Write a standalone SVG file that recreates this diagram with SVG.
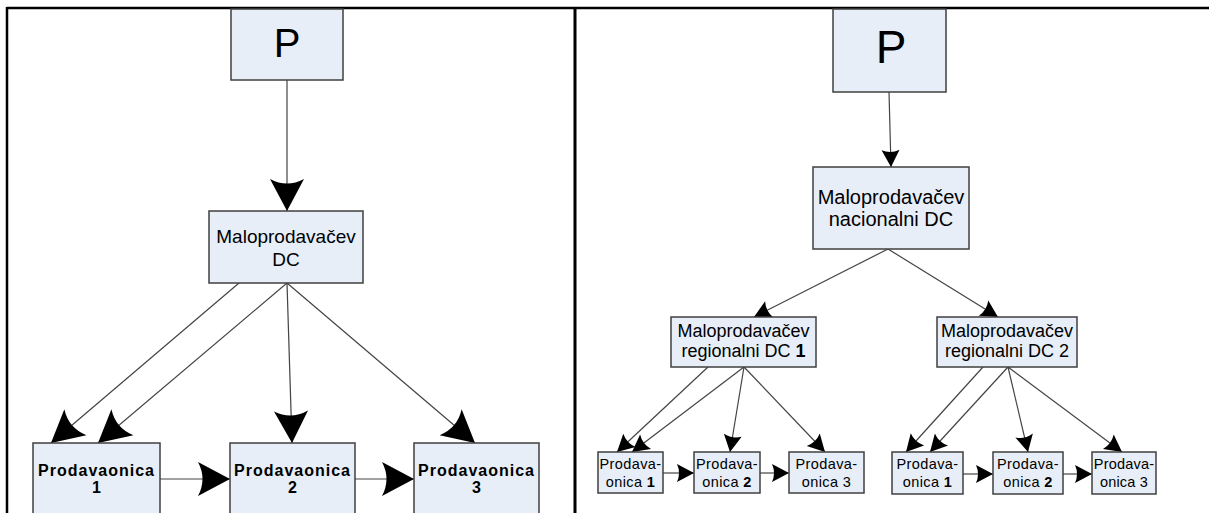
<svg xmlns="http://www.w3.org/2000/svg" width="1209" height="513" viewBox="0 0 1209 513">
<style>
.box{fill:#E7EEF7;stroke:#3F3F3F;stroke-width:1.5}
.t{font-family:"Liberation Sans",Arial,sans-serif;fill:#000;text-anchor:middle}
.c{stroke:#444;stroke-width:1.2;fill:none}
.frame{stroke:#000;fill:none}
</style>
<defs>
<marker id="big" markerUnits="userSpaceOnUse" markerWidth="40" markerHeight="40" refX="0" refY="0" orient="auto" overflow="visible">
<path d="M0,0 L-32,-17 Q-23,0 -32,17 Z" fill="#000"/>
</marker>
<marker id="small" markerUnits="userSpaceOnUse" markerWidth="20" markerHeight="20" refX="0" refY="0" orient="auto" overflow="visible">
<path d="M0,0 L-17,-9 Q-13,0 -17,9 Z" fill="#000"/>
</marker>
</defs>
<rect width="1209" height="513" fill="#fff"/>
<g id="frame">
<line class="frame" x1="7" y1="8" x2="1209" y2="8" stroke-width="2.5"/>
<line class="frame" x1="7" y1="7" x2="7" y2="513" stroke-width="2.5"/>
<line class="frame" x1="575" y1="7" x2="575" y2="513" stroke-width="3"/>
</g>
<g id="connectors">
<line class="c" x1="287" y1="80" x2="287" y2="211" marker-end="url(#big)"/>
<line class="c" x1="239" y1="283" x2="51" y2="443" marker-end="url(#big)"/>
<line class="c" x1="287" y1="283" x2="98" y2="443" marker-end="url(#big)"/>
<line class="c" x1="287" y1="283" x2="292" y2="443" marker-end="url(#big)"/>
<line class="c" x1="287" y1="283" x2="475" y2="443" marker-end="url(#big)"/>
<line class="c" x1="160" y1="479" x2="230" y2="479" marker-end="url(#big)"/>
<line class="c" x1="355" y1="479" x2="414" y2="479" marker-end="url(#big)"/>
<line class="c" x1="889" y1="92" x2="891" y2="167" marker-end="url(#small)"/>
<line class="c" x1="888" y1="249" x2="754" y2="317" marker-end="url(#small)"/>
<line class="c" x1="888" y1="249" x2="998" y2="317" marker-end="url(#small)"/>
<line class="c" x1="708" y1="367" x2="617" y2="452" marker-end="url(#small)"/>
<line class="c" x1="744" y1="367" x2="632" y2="452" marker-end="url(#small)"/>
<line class="c" x1="744" y1="367" x2="730" y2="452" marker-end="url(#small)"/>
<line class="c" x1="744" y1="367" x2="825" y2="452" marker-end="url(#small)"/>
<line class="c" x1="663" y1="473" x2="694" y2="473" marker-end="url(#small)"/>
<line class="c" x1="760" y1="473" x2="789" y2="473" marker-end="url(#small)"/>
<line class="c" x1="983" y1="367" x2="906" y2="452" marker-end="url(#small)"/>
<line class="c" x1="1008" y1="367" x2="930" y2="452" marker-end="url(#small)"/>
<line class="c" x1="1008" y1="367" x2="1028" y2="452" marker-end="url(#small)"/>
<line class="c" x1="1008" y1="367" x2="1122" y2="452" marker-end="url(#small)"/>
<line class="c" x1="963" y1="474" x2="993" y2="474" marker-end="url(#small)"/>
<line class="c" x1="1063" y1="474" x2="1092" y2="474" marker-end="url(#small)"/>
</g>
<g id="p-left">
<rect class="box" x="231" y="9" width="112" height="71"/>
<text class="t" x="287" y="57" font-size="40">P</text>
</g>
<g id="dc-left">
<rect class="box" x="209" y="211" width="154" height="72"/>
<text class="t" x="286" y="243" font-size="19">Maloprodavačev</text>
<text class="t" x="286" y="266" font-size="19">DC</text>
</g>
<g id="store1-left">
<rect class="box" x="33" y="443" width="127" height="85"/>
<text class="t" x="96.5" y="476" font-size="16" font-weight="bold" letter-spacing="1">Prodavaonica</text>
<text class="t" x="96.5" y="493" font-size="16" font-weight="bold">1</text>
</g>
<g id="store2-left">
<rect class="box" x="230" y="443" width="125" height="85"/>
<text class="t" x="292.5" y="476" font-size="16" font-weight="bold" letter-spacing="1">Prodavaonica</text>
<text class="t" x="292.5" y="493" font-size="16" font-weight="bold">2</text>
</g>
<g id="store3-left">
<rect class="box" x="414" y="443" width="125" height="85"/>
<text class="t" x="476.5" y="476" font-size="16" font-weight="bold" letter-spacing="1">Prodavaonica</text>
<text class="t" x="476.5" y="493" font-size="16" font-weight="bold">3</text>
</g>
<g id="p-right">
<rect class="box" x="833" y="9" width="113" height="83"/>
<text class="t" x="891" y="63" font-size="46">P</text>
</g>
<g id="national-dc">
<rect class="box" x="813" y="167" width="156" height="82"/>
<text class="t" x="891" y="204" font-size="20">Maloprodavačev</text>
<text class="t" x="891" y="226" font-size="20">nacionalni DC</text>
</g>
<g id="regional-dc1">
<rect class="box" x="671" y="317" width="145" height="50"/>
<text class="t" x="743.5" y="337" font-size="18">Maloprodavačev</text>
<text class="t" x="743.5" y="357" font-size="18">regionalni DC <tspan font-weight="bold">1</tspan></text>
</g>
<g id="regional-dc2">
<rect class="box" x="937" y="317" width="140" height="50"/>
<text class="t" x="1007" y="337" font-size="18">Maloprodavačev</text>
<text class="t" x="1007" y="357" font-size="18">regionalni DC 2</text>
</g>
<g id="r1-store1">
<rect class="box" x="598" y="452" width="65" height="41"/>
<text class="t" x="630.5" y="469" font-size="14.5" letter-spacing="0.4">Prodava-</text>
<text class="t" x="630.5" y="487" font-size="14.5" letter-spacing="0.4">onica <tspan font-weight="bold">1</tspan></text>
</g>
<g id="r1-store2">
<rect class="box" x="694" y="452" width="66" height="41"/>
<text class="t" x="727" y="469" font-size="14.5" letter-spacing="0.4">Prodava-</text>
<text class="t" x="727" y="487" font-size="14.5" letter-spacing="0.4">onica <tspan font-weight="bold">2</tspan></text>
</g>
<g id="r1-store3">
<rect class="box" x="789" y="452" width="75" height="41"/>
<text class="t" x="826.5" y="469" font-size="14.5" letter-spacing="0.4">Prodava-</text>
<text class="t" x="826.5" y="487" font-size="14.5" letter-spacing="0.4">onica 3</text>
</g>
<g id="r2-store1">
<rect class="box" x="892" y="452" width="71" height="42"/>
<text class="t" x="927.5" y="469" font-size="14.5" letter-spacing="0.4">Prodava-</text>
<text class="t" x="927.5" y="487" font-size="14.5" letter-spacing="0.4">onica <tspan font-weight="bold">1</tspan></text>
</g>
<g id="r2-store2">
<rect class="box" x="993" y="452" width="70" height="42"/>
<text class="t" x="1028" y="469" font-size="14.5" letter-spacing="0.4">Prodava-</text>
<text class="t" x="1028" y="487" font-size="14.5" letter-spacing="0.4">onica <tspan font-weight="bold">2</tspan></text>
</g>
<g id="r2-store3">
<rect class="box" x="1092" y="452" width="64" height="42"/>
<text class="t" x="1124" y="469" font-size="14.5" letter-spacing="0.2">Prodava-</text>
<text class="t" x="1124" y="487" font-size="14.5" letter-spacing="0.2">onica 3</text>
</g>
</svg>
